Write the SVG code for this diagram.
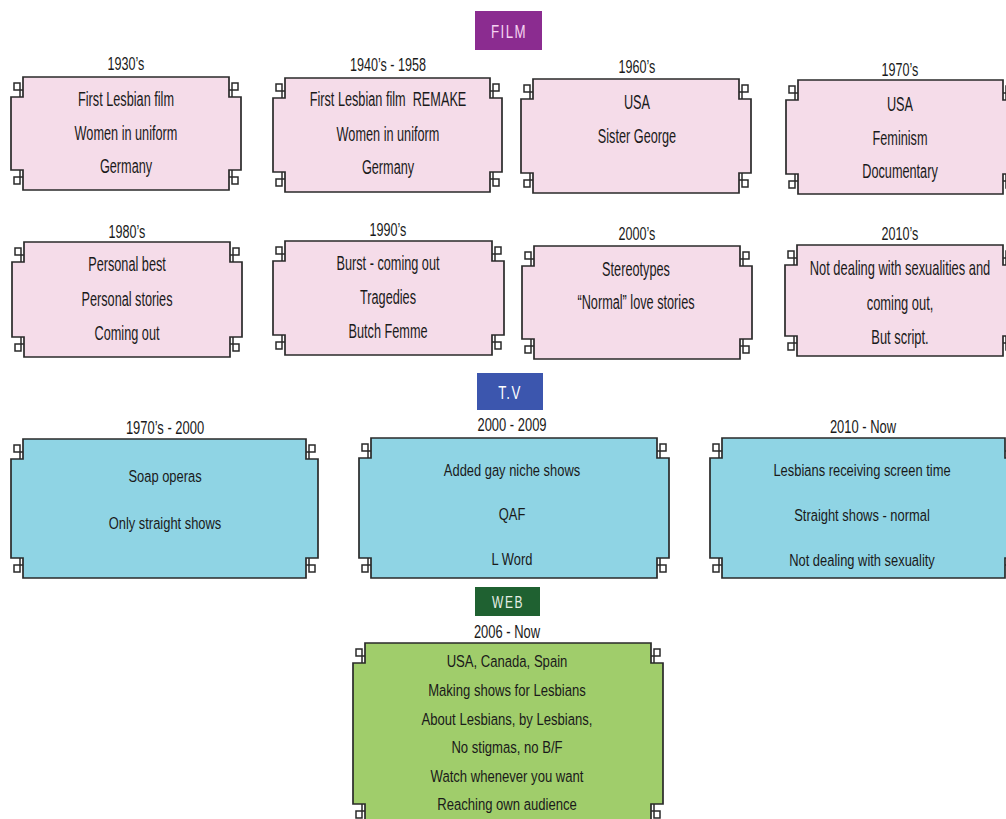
<svg xmlns="http://www.w3.org/2000/svg" width="1006" height="819" viewBox="0 0 1006 819">
<style>
.pk{fill:#f5dce9;stroke:#2a2a2a;stroke-width:1.7}
.bl{fill:#8fd4e4;stroke:#2a2a2a;stroke-width:1.7}
.gr{fill:#a0cd6b;stroke:#2a2a2a;stroke-width:1.7}
.dc{fill:none;stroke:#2a2a2a;stroke-width:1.5}
text{font-family:"Liberation Sans",Arial,sans-serif;fill:#1a1a1a;text-anchor:middle}
.yr{font-size:18.5px}
.fb{font-size:20px}
.tb{font-size:17px}
.hd{font-size:19px;letter-spacing:2px}
</style>
<rect width="1006" height="819" fill="#fff"/>

<g id="film-header">
<rect x="475" y="11" width="67" height="39" fill="#8b2c90"/>
<g transform="translate(509 0) scale(0.7 1)"><text class="hd" y="38" style="fill:#f6d4f2">FILM</text></g>
</g>

<g id="film-1930s">
<path class="pk" d="M23 77H229V97H241V170H229V190H23V170H11V97H23Z"/>
<path class="dc" d="M23 90H14V83H20V97M229 90H238V83H232V97M23 177H14V184H20V170M229 177H238V184H232V170"/>
<g transform="translate(126 0) scale(0.68 1)"><text class="yr" y="70">1930’s</text></g>
<g transform="translate(126 0) scale(0.635 1)"><text class="fb" y="106">First Lesbian film</text><text class="fb" y="140">Women in uniform</text><text class="fb" y="173">Germany</text></g>
</g>

<g id="film-1940s">
<path class="pk" d="M285 78H490V98H502V172H490V192H285V172H273V98H285Z"/>
<path class="dc" d="M285 91H276V84H282V98M490 91H499V84H493V98M285 179H276V186H282V172M490 179H499V186H493V172"/>
<g transform="translate(388 0) scale(0.68 1)"><text class="yr" y="71">1940’s - 1958</text></g>
<g transform="translate(388 0) scale(0.635 1)"><text class="fb" y="106" xml:space="preserve">First Lesbian film  REMAKE</text><text class="fb" y="141">Women in uniform</text><text class="fb" y="174">Germany</text></g>
</g>

<g id="film-1960s">
<path class="pk" d="M533 79H739V99H751V173H739V193H533V173H521V99H533Z"/>
<path class="dc" d="M533 92H524V85H530V99M739 92H748V85H742V99M533 180H524V187H530V173M739 180H748V187H742V173"/>
<g transform="translate(637 0) scale(0.68 1)"><text class="yr" y="73">1960’s</text></g>
<g transform="translate(637 0) scale(0.635 1)"><text class="fb" y="109">USA</text><text class="fb" y="143">Sister George</text></g>
</g>

<g id="film-1970s">
<path class="pk" d="M798 80H1003V100H1015V174H1003V194H798V174H786V100H798Z"/>
<path class="dc" d="M798 93H789V86H795V100M1003 93H1012V86H1006V100M798 181H789V188H795V174M1003 181H1012V188H1006V174"/>
<g transform="translate(900 0) scale(0.68 1)"><text class="yr" y="76">1970’s</text></g>
<g transform="translate(900 0) scale(0.635 1)"><text class="fb" y="111">USA</text><text class="fb" y="145">Feminism</text><text class="fb" y="178">Documentary</text></g>
</g>

<g id="film-1980s">
<path class="pk" d="M24 242H230V262H242V337H230V357H24V337H12V262H24Z"/>
<path class="dc" d="M24 255H15V248H21V262M230 255H239V248H233V262M24 344H15V351H21V337M230 344H239V351H233V337"/>
<g transform="translate(127 0) scale(0.68 1)"><text class="yr" y="238">1980’s</text></g>
<g transform="translate(127 0) scale(0.635 1)"><text class="fb" y="271">Personal best</text><text class="fb" y="306">Personal stories</text><text class="fb" y="340">Coming out</text></g>
</g>

<g id="film-1990s">
<path class="pk" d="M285 241H492V261H504V335H492V355H285V335H273V261H285Z"/>
<path class="dc" d="M285 254H276V247H282V261M492 254H501V247H495V261M285 342H276V349H282V335M492 342H501V349H495V335"/>
<g transform="translate(388 0) scale(0.68 1)"><text class="yr" y="236">1990’s</text></g>
<g transform="translate(388 0) scale(0.635 1)"><text class="fb" y="270">Burst - coming out</text><text class="fb" y="304">Tragedies</text><text class="fb" y="338">Butch Femme</text></g>
</g>

<g id="film-2000s">
<path class="pk" d="M534 246H740V266H752V339H740V359H534V339H522V266H534Z"/>
<path class="dc" d="M534 259H525V252H531V266M740 259H749V252H743V266M534 346H525V353H531V339M740 346H749V353H743V339"/>
<g transform="translate(637 0) scale(0.68 1)"><text class="yr" y="240">2000’s</text></g>
<g transform="translate(636 0) scale(0.635 1)"><text class="fb" y="276">Stereotypes</text><text class="fb" y="309">“Normal” love stories</text></g>
</g>

<g id="film-2010s">
<path class="pk" d="M797 245H1003V265H1015V336H1003V356H797V336H785V265H797Z"/>
<path class="dc" d="M797 258H788V251H794V265M1003 258H1012V251H1006V265M797 343H788V350H794V336M1003 343H1012V350H1006V336"/>
<g transform="translate(900 0) scale(0.68 1)"><text class="yr" y="240">2010’s</text></g>
<g transform="translate(900 0) scale(0.645 1)"><text class="fb" y="275">Not dealing with sexualities and</text><text class="fb" y="310">coming out,</text><text class="fb" y="344">But script.</text></g>
</g>

<g id="tv-header">
<rect x="477" y="373" width="66" height="37" fill="#3c56ae"/>
<g transform="translate(510 0) scale(0.7 1)"><text class="hd" y="399" style="fill:#ffffff">T.V</text></g>
</g>

<g id="tv-1970s-2000">
<path class="bl" d="M23 439H306V459H318V558H306V578H23V558H11V459H23Z"/>
<path class="dc" d="M23 452H14V445H20V459M306 452H315V445H309V459M23 565H14V572H20V558M306 565H315V572H309V558"/>
<g transform="translate(165 0) scale(0.7 1)"><text class="yr" y="434">1970’s - 2000</text></g>
<g transform="translate(165 0) scale(0.76 1)"><text class="tb" y="482">Soap operas</text><text class="tb" y="529">Only straight shows</text></g>
</g>

<g id="tv-2000-2009">
<path class="bl" d="M371 438H657V458H669V558H657V578H371V558H359V458H371Z"/>
<path class="dc" d="M371 451H362V444H368V458M657 451H666V444H660V458M371 565H362V572H368V558M657 565H666V572H660V558"/>
<g transform="translate(512 0) scale(0.7 1)"><text class="yr" y="431">2000 - 2009</text></g>
<g transform="translate(512 0) scale(0.76 1)"><text class="tb" y="476">Added gay niche shows</text><text class="tb" y="520">QAF</text><text class="tb" y="565">L Word</text></g>
</g>

<g id="tv-2010-now">
<path class="bl" d="M722 438H1005V458H1017V558H1005V578H722V558H710V458H722Z"/>
<path class="dc" d="M722 451H713V444H719V458M1005 451H1014V444H1008V458M722 565H713V572H719V558M1005 565H1014V572H1008V558"/>
<g transform="translate(863 0) scale(0.7 1)"><text class="yr" y="433">2010 - Now</text></g>
<g transform="translate(862 0) scale(0.76 1)"><text class="tb" y="476">Lesbians receiving screen time</text><text class="tb" y="521">Straight shows - normal</text><text class="tb" y="566">Not dealing with sexuality</text></g>
</g>

<g id="web-header">
<rect x="475" y="587" width="65" height="29" fill="#1f6131"/>
<g transform="translate(508 0) scale(0.75 1)"><text class="hd" y="608" style="font-size:16px;fill:#e6efe6">WEB</text></g>
</g>

<g id="web-2006-now">
<path class="gr" d="M365 643H651V663H663V804H651V824H365V804H353V663H365Z"/>
<path class="dc" d="M365 656H356V649H362V663M651 656H660V649H654V663M365 811H356V818H362V804M651 811H660V818H654V804"/>
<g transform="translate(507 0) scale(0.7 1)"><text class="yr" y="638">2006 - Now</text></g>
<g transform="translate(507 0) scale(0.77 1)"><text class="tb" y="667">USA, Canada, Spain</text><text class="tb" y="696">Making shows for Lesbians</text><text class="tb" y="725">About Lesbians, by Lesbians,</text><text class="tb" y="753">No stigmas, no B/F</text><text class="tb" y="782">Watch whenever you want</text><text class="tb" y="810">Reaching own audience</text></g>
</g>

<g id="connectors"></g>
</svg>
